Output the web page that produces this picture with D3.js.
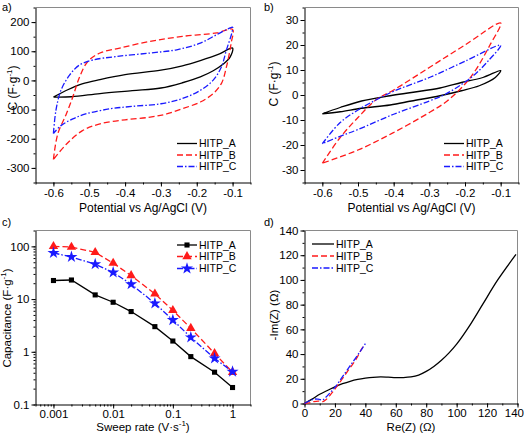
<!DOCTYPE html>
<html><head><meta charset="utf-8">
<script src="https://cdn.jsdelivr.net/npm/d3@7"></script>
<style>
body{margin:0;background:#fff}
text{font-family:"Liberation Sans",Arial,sans-serif;fill:#000}
</style>
</head><body>
<svg id="chart" width="524" height="435"></svg>
<script>
// ---------- DATA ----------
const seriesNames = ["HITP_A", "HITP_B", "HITP_C"];
const seriesColors = ["#000000", "#ff1a1a", "#1a1aff"];

// Panel a: CV loops (potential V, capacitance F/g)
const aA_V = [-0.6,-0.56,-0.52,-0.47,-0.4,-0.3,-0.24,-0.19,-0.14,-0.1,-0.107,-0.126,-0.154,-0.19,-0.24,-0.3,-0.38,-0.47,-0.55,-0.6];
const aA_C = [-57,-32,-12,3,20,35,50,68,89,111,80,56,33,12,-8,-26,-35,-45,-56,-57];
const aB_V = [-0.6,-0.588,-0.564,-0.546,-0.527,-0.504,-0.47,-0.415,-0.33,-0.24,-0.144,-0.1,-0.104,-0.117,-0.131,-0.154,-0.19,-0.24,-0.284,-0.33,-0.4,-0.47,-0.52,-0.564,-0.6];
const aB_C = [-271,-184,-115,-57,12,65,94,111,134,151,163,175,128,47,-10,-45,-74,-97,-115,-126,-135,-149,-173,-219,-271];
const aC_V = [-0.6,-0.593,-0.579,-0.555,-0.527,-0.49,-0.424,-0.33,-0.256,-0.19,-0.144,-0.107,-0.1,-0.102,-0.117,-0.131,-0.154,-0.19,-0.24,-0.3,-0.38,-0.44,-0.51,-0.546,-0.579,-0.6];
const aC_C = [-182,-103,-34,18,53,70,82,94,105,128,157,180,182,163,105,47,1,-34,-62,-80,-89,-97,-115,-132,-155,-182];

// Panel b: CV loops
const bA_V = [-0.6,-0.55,-0.49,-0.41,-0.35,-0.27,-0.21,-0.15,-0.1,-0.115,-0.16,-0.21,-0.27,-0.35,-0.41,-0.49,-0.55,-0.6];
const bA_C = [-7.5,-5,-2.4,-0.3,1,2.8,5,7,9.8,7,3.7,1.7,-0.3,-2.4,-4,-5.3,-6.7,-7.5];
const bB_V = [-0.6,-0.55,-0.5,-0.45,-0.4,-0.3,-0.2,-0.1,-0.13,-0.17,-0.2,-0.25,-0.3,-0.4,-0.5,-0.6];
const bB_C = [-27.3,-17,-9,-2,2,11,20,28.8,20,10,4.4,-2.4,-7,-15,-22,-27.3];
const bC_V = [-0.6,-0.55,-0.5,-0.45,-0.4,-0.3,-0.2,-0.1,-0.134,-0.171,-0.208,-0.255,-0.3,-0.4,-0.5,-0.55,-0.6];
const bC_C = [-19.5,-11,-6,-2,1.5,7,13.5,19.9,13.8,8.4,4.4,0.3,-2.4,-7.7,-13.8,-16.5,-19.5];

// Panel c: capacitance vs sweep rate
const sweepRates = [0.001,0.002,0.005,0.01,0.02,0.05,0.1,0.2,0.5,1];
const cA = [22.5,23,12,8.7,5.8,3.0,1.6,0.81,0.41,0.21];
const cB = [100,97,77,48,28,12.6,6.1,2.8,0.93,0.41];
const cC = [75,63,46,32,19.2,8.3,4.0,1.88,0.75,0.42];

// Panel d: Nyquist
const dA_Re = [0,5,10,15,20,25,30,35,40,45,50,55,60,65,70,75,80,85,90,95,100,108,117,127,139];
const dA_Im = [0,3.5,7.5,10.5,13.5,16,18,19.5,20.5,21.2,21.5,21.3,21,21,21.5,23,26,30,35,41,48,62,80,100,120.6];
const dB_Re = [0,3,6,9,12,14,17,19,22,26,30,34,37,39];
const dB_Im = [0,0.5,1.5,2,1.5,3,7,10,15,22,29,36,43,47];
const dC_Re = [0,3,6,9,12,14,17,20,24,28,32,36,40];
const dC_Im = [0,2,3.5,3.5,3,5,9,13,20,27,34,41,48.5];

// Tick values
const aYTicks = [-300,-200,-100,0,100,200];
const bYTicks = [-30,-20,-10,0,10,20,30];
const cvXTicks = [-0.6,-0.5,-0.4,-0.3,-0.2,-0.1];
const cXTicks = [0.001,0.01,0.1,1];
const cXLabels = ["0.001","0.01","0.1","1"];
const cYTicks = [0.1,1,10,100];
const cYLabels = ["0.1","1","10","100"];
const dTicks = [0,20,40,60,80,100,120,140];

// ---------- DRAWING ----------
const svg = d3.select("#chart");
const TFS = 11.5;   // tick labels
const FS = 12;      // axis titles
const LFS = 10.5;   // legend
const dashes = [null, "6,3", "6,2,1.5,2"];

function range(a, b, s) { const r = []; for (let v = a; v <= b + s * 1e-6; v += s) r.push(+v.toFixed(6)); return r; }
function logMinor(lo, hi) { const r = []; for (let e = -5; e <= 4; e++) for (let m = 1; m < 10; m++) { const v = +(m * Math.pow(10, e)).toPrecision(6); if (v >= lo * 0.999 && v <= hi * 1.001) r.push(v); } return r; }

function panel(o) {
  const g = svg.append("g");
  const x = o.x, y = o.y;
  g.append("line").attr("x1", o.L).attr("x2", o.R).attr("y1", o.T).attr("y2", o.T).attr("stroke", "#8a8a8a");
  g.append("line").attr("x1", o.R).attr("x2", o.R).attr("y1", o.T).attr("y2", o.B).attr("stroke", "#8a8a8a");
  g.append("g").attr("transform", `translate(0,${o.B})`)
    .call(d3.axisBottom(x).tickValues(o.xMinor).tickSize(2).tickFormat(""))
    .call(s => s.select(".domain").remove());
  g.append("g").attr("transform", `translate(${o.L},0)`)
    .call(d3.axisLeft(y).tickValues(o.yMinor).tickSize(2).tickFormat(""))
    .call(s => s.select(".domain").remove());
  const xa = g.append("g").attr("transform", `translate(0,${o.B})`)
    .call(d3.axisBottom(x).tickValues(o.xMajor).tickSize(4).tickSizeOuter(0).tickPadding(o.xPad).tickFormat(o.xFmt));
  const ya = g.append("g").attr("transform", `translate(${o.L},0)`)
    .call(d3.axisLeft(y).tickValues(o.yMajor).tickSize(4).tickSizeOuter(0).tickPadding(2).tickFormat(o.yFmt));
  [xa, ya].forEach(a => { a.selectAll("text").attr("font-size", TFS).attr("font-family", "Liberation Sans, Arial, sans-serif").style("fill", "#000"); });
  svg.selectAll(".domain").attr("stroke", "#000");
  svg.append("text").attr("x", o.labX).attr("y", o.labY).attr("font-size", 11).text(o.label);
  svg.append("text").attr("x", (o.L + o.R) / 2).attr("y", o.xTitleY).attr("text-anchor", "middle").attr("font-size", o.titleFS).call(o.xTitle);
  svg.append("text").attr("transform", `translate(${o.yTitleX},${o.yTitleY}) rotate(-90)`).attr("text-anchor", "middle").attr("font-size", o.titleFS).call(o.yTitle);
  return { g, xa, ya };
}

function supTitle(pre, sup, post) {
  return t => {
    t.append("tspan").text(pre);
    t.append("tspan").attr("font-size", 8).attr("dy", -5).text(sup);
    t.append("tspan").attr("dy", 5).text(post);
  };
}
const plain = s => t => t.text(s);
const fmtPlain = d => String(d);

function drawLoops(g, x, y, Vs, Cs) {
  const line = d3.line().x(d => x(d[0])).y(d => y(d[1])).curve(d3.curveCatmullRom.alpha(0.5));
  Vs.forEach((V, i) => {
    const pts = V.map((v, j) => [v, Cs[i][j]]);
    g.append("path").attr("d", line(pts)).attr("fill", "none")
      .attr("stroke", seriesColors[i]).attr("stroke-width", 1.3)
      .attr("stroke-dasharray", dashes[i]);
  });
}

function legend(x0, x1, tx, ys, markers) {
  ys.forEach((yy, i) => {
    svg.append("line").attr("x1", x0).attr("x2", x1).attr("y1", yy).attr("y2", yy)
      .attr("stroke", seriesColors[i]).attr("stroke-width", 1.3).attr("stroke-dasharray", dashes[i]);
    if (markers) {
      svg.append("path").attr("d", d3.symbol().type(markers[i].type).size(markers[i].size)())
        .attr("transform", `translate(${(x0 + x1) / 2},${yy})`).attr("fill", seriesColors[i]);
    }
    svg.append("text").attr("x", tx).attr("y", yy).attr("dy", "0.36em").attr("font-size", LFS).text(seriesNames[i]);
  });
}

// Panel a
{
  const o = { L: 35.5, R: 250.5, T: 7.5, B: 182.5 };
  o.x = d3.scaleLinear().domain([-0.65, -0.05]).range([o.L, o.R]);
  o.y = d3.scaleLinear().domain([-350, 250]).range([o.B, o.T]);
  Object.assign(o, { xMajor: cvXTicks, xMinor: range(-0.65, -0.05, 0.05), yMajor: aYTicks, yMinor: range(-350, 250, 50),
    xFmt: fmtPlain, yFmt: fmtPlain, xPad: 2, titleFS: FS, label: "a)", labX: 2, labY: 11, xTitleY: 212, yTitleX: 16.5, yTitleY: 88,
    xTitle: plain("Potential vs Ag/AgCl (V)"), yTitle: supTitle("C (F·g", "-1", ")") });
  const p = panel(o);
  drawLoops(p.g, o.x, o.y, [aA_V, aB_V, aC_V], [aA_C, aB_C, aC_C]);
  legend(177, 197, 199, [143.5, 155, 166.5]);
}
// Panel b
{
  const o = { L: 304.5, R: 518.5, T: 7.5, B: 182.5 };
  o.x = d3.scaleLinear().domain([-0.65, -0.05]).range([o.L, o.R]);
  o.y = d3.scaleLinear().domain([-35, 35]).range([o.B, o.T]);
  Object.assign(o, { xMajor: cvXTicks, xMinor: range(-0.65, -0.05, 0.05), yMajor: bYTicks, yMinor: range(-35, 35, 5),
    xFmt: fmtPlain, yFmt: fmtPlain, xPad: 2, titleFS: FS, label: "b)", labX: 264, labY: 11, xTitleY: 212, yTitleX: 278, yTitleY: 84,
    xTitle: plain("Potential vs Ag/AgCl (V)"), yTitle: supTitle("C (F·g", "-1", ")") });
  const p = panel(o);
  drawLoops(p.g, o.x, o.y, [bA_V, bB_V, bC_V], [bA_C, bB_C, bC_C]);
  legend(444, 464, 466, [143.5, 155, 166.5]);
}
// Panel c
{
  const o = { L: 35.5, R: 250.5, T: 230.5, B: 404.5 };
  o.x = d3.scaleLog().domain([0.0005, 2]).range([o.L, o.R]);
  o.y = d3.scaleLog().domain([0.1, 200]).range([o.B, o.T]);
  Object.assign(o, { xMajor: cXTicks, xMinor: logMinor(0.0005, 2), yMajor: cYTicks, yMinor: logMinor(0.1, 200),
    xFmt: (d, i) => cXLabels[i], yFmt: (d, i) => cYLabels[i], xPad: 1, titleFS: 11.5, label: "c)", labX: 2, labY: 226, xTitleY: 431, yTitleX: 11, yTitleY: 318,
    xTitle: supTitle("Sweep rate (V·s", "-1", ")"), yTitle: supTitle("Capacitance (F·g", "-1", ")") });
  const p = panel(o);
  const markers = [{ type: d3.symbolSquare, size: 26 }, { type: d3.symbolTriangle, size: 38 }, { type: d3.symbolStar, size: 45 }];
  const line = d3.line().x(d => o.x(d[0])).y(d => o.y(d[1]));
  [cA, cB, cC].forEach((vals, i) => {
    const pts = sweepRates.map((r, j) => [r, vals[j]]);
    p.g.append("path").attr("d", line(pts)).attr("fill", "none").attr("stroke", seriesColors[i])
      .attr("stroke-width", 1.3).attr("stroke-dasharray", dashes[i]);
    p.g.selectAll(null).data(pts).enter().append("path")
      .attr("d", d3.symbol().type(markers[i].type).size(markers[i].size)())
      .attr("transform", d => `translate(${o.x(d[0])},${o.y(d[1])})`).attr("fill", seriesColors[i]);
  });
  legend(177, 197, 199, [245, 256.5, 268.5], markers);
}
// Panel d
{
  const o = { L: 304.5, R: 517.5, T: 230.5, B: 403.5 };
  o.x = d3.scaleLinear().domain([0, 140]).range([o.L, o.R]);
  o.y = d3.scaleLinear().domain([0, 140]).range([o.B, o.T]);
  Object.assign(o, { xMajor: dTicks, xMinor: range(0, 140, 10), yMajor: dTicks, yMinor: range(0, 140, 10),
    xFmt: fmtPlain, yFmt: fmtPlain, xPad: 1, titleFS: 11.5, label: "d)", labX: 264, labY: 226, xTitleY: 431, yTitleX: 278, yTitleY: 315,
    xTitle: plain("Re(Z) (Ω)"), yTitle: plain("-Im(Z) (Ω)") });
  const p = panel(o);
  // keep the last x label inside the picture
  p.xa.selectAll(".tick text").filter(d => d === 140).attr("text-anchor", "end").attr("x", 6);
  const line = d3.line().x(d => o.x(d[0])).y(d => o.y(d[1])).curve(d3.curveCatmullRom.alpha(0.5));
  [[dA_Re, dA_Im], [dB_Re, dB_Im], [dC_Re, dC_Im]].forEach((s, i) => {
    const pts = s[0].map((r, j) => [r, s[1][j]]);
    p.g.append("path").attr("d", line(pts)).attr("fill", "none").attr("stroke", seriesColors[i])
      .attr("stroke-width", 1.3).attr("stroke-dasharray", dashes[i]);
  });
  legend(312, 334, 336, [244, 256, 268]);
}
</script>
</body></html>
